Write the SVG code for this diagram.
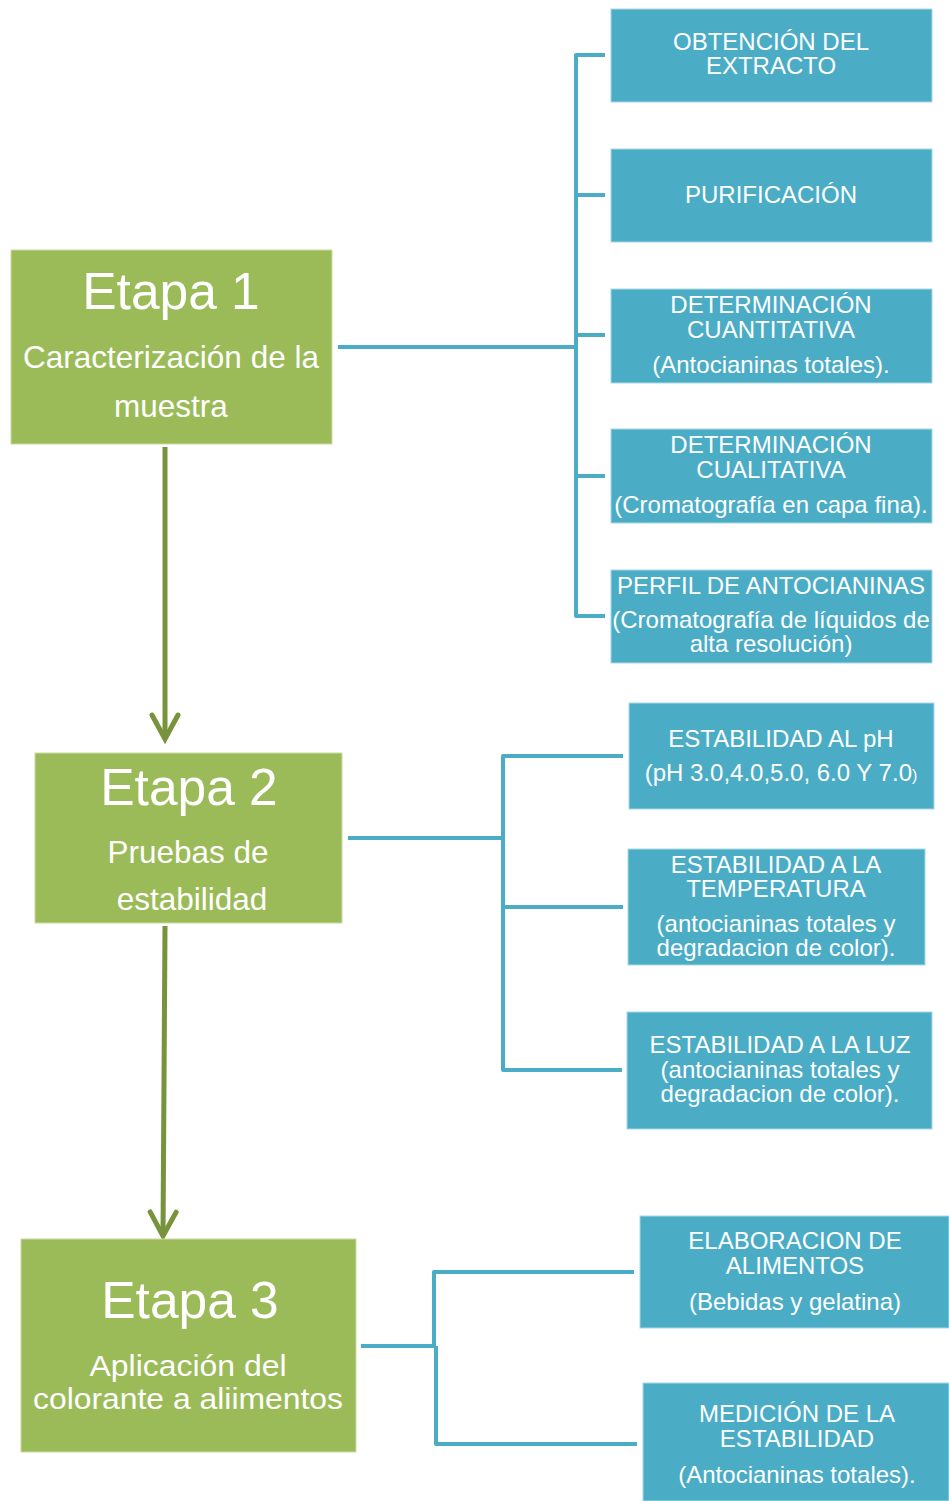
<svg xmlns="http://www.w3.org/2000/svg" width="949" height="1501" viewBox="0 0 949 1501">
<style>
.g{fill:#9BBB59;stroke:#c9dba6;stroke-width:1}
.b{fill:#4BACC6;stroke:#a9d7e4;stroke-width:1}
text{font-family:"Liberation Sans",Arial,sans-serif;fill:#fff;text-anchor:middle}
.t{font-size:24px}
.h{font-size:51.5px}
.s{font-size:31.5px}
.s3{font-size:29px}
.c{fill:none;stroke:#4BACC6;stroke-width:4;stroke-linejoin:round}
.a{fill:none;stroke:#77933C;stroke-width:5}
</style>
<defs>
<marker id="ah" markerUnits="userSpaceOnUse" markerWidth="40" markerHeight="40" viewBox="-30 -20 40 40" refX="0" refY="0" orient="auto">
<path d="M-24,-13 L0,0 L-24,13" fill="none" stroke="#77933C" stroke-width="5" stroke-linecap="round" stroke-linejoin="miter"/>
</marker>
</defs>
<rect width="949" height="1501" fill="#fff"/>
<g id="connectors">
<path class="c" d="M338,347 H576"/>
<path class="c" d="M605,55 H576 V616 H605"/>
<path class="c" d="M576,195 H605 M576,335 H605 M576,476 H605"/>
<path class="c" d="M348,838 H503"/>
<path class="c" d="M623,756 H503 V1070 H622"/>
<path class="c" d="M503,907 H623"/>
<path class="c" d="M361,1346 H435"/>
<path class="c" d="M634,1272 H434 V1346 M436,1346 V1444 H637"/>
<path class="a" d="M165,447 V739" marker-end="url(#ah)"/>
<path class="a" d="M165,926 L163,1236" marker-end="url(#ah)"/>
</g>
<g id="etapa1">
<rect class="g" x="11" y="250" width="321" height="194"/>
<text class="h" x="171" y="309">Etapa 1</text>
<text class="s" x="171" y="368">Caracterización de la</text>
<text class="s" x="171" y="417">muestra</text>
</g>
<g id="etapa2">
<rect class="g" x="35" y="753" width="307" height="170"/>
<text class="h" x="189" y="805">Etapa 2</text>
<text class="s" x="188" y="863">Pruebas de</text>
<text class="s" x="192" y="910">estabilidad</text>
</g>
<g id="etapa3">
<rect class="g" x="21" y="1239" width="335" height="213"/>
<text class="h" x="190" y="1318">Etapa 3</text>
<text class="s3" x="188" y="1376" textLength="197" lengthAdjust="spacingAndGlyphs">Aplicación del</text>
<text class="s3" x="188" y="1409" textLength="310" lengthAdjust="spacingAndGlyphs">colorante a aliimentos</text>
</g>
<g id="obtencion">
<rect class="b" x="611" y="9" width="321" height="93"/>
<text class="t" x="771" y="50">OBTENCIÓN DEL</text>
<text class="t" x="771" y="74">EXTRACTO</text>
</g>
<g id="purificacion">
<rect class="b" x="611" y="149" width="321" height="93"/>
<text class="t" x="771" y="203">PURIFICACIÓN</text>
</g>
<g id="cuantitativa">
<rect class="b" x="611" y="289" width="321" height="94"/>
<text class="t" x="771" y="313">DETERMINACIÓN</text>
<text class="t" x="771" y="338">CUANTITATIVA</text>
<text class="t" x="771" y="373">(Antocianinas totales).</text>
</g>
<g id="cualitativa">
<rect class="b" x="611" y="429" width="321" height="94"/>
<text class="t" x="771" y="453">DETERMINACIÓN</text>
<text class="t" x="771" y="478">CUALITATIVA</text>
<text class="t" x="771" y="513">(Cromatografía en capa fina).</text>
</g>
<g id="perfil">
<rect class="b" x="611" y="570" width="321" height="93"/>
<text class="t" x="771" y="594">PERFIL DE ANTOCIANINAS</text>
<text class="t" x="771" y="628">(Cromatografía de líquidos de</text>
<text class="t" x="771" y="652">alta resolución)</text>
</g>
<g id="ph">
<rect class="b" x="629" y="703" width="305" height="106"/>
<text class="t" x="781" y="747">ESTABILIDAD AL pH</text>
<text class="t" x="781" y="781">(pH 3.0,4.0,5.0, 6.0 Y 7.0<tspan font-size="16">)</tspan></text>
</g>
<g id="temperatura">
<rect class="b" x="628" y="849" width="297" height="116"/>
<text class="t" x="776" y="873">ESTABILIDAD A LA</text>
<text class="t" x="776" y="897">TEMPERATURA</text>
<text class="t" x="776" y="932">(antocianinas totales y</text>
<text class="t" x="776" y="956">degradacion de color).</text>
</g>
<g id="luz">
<rect class="b" x="627" y="1012" width="305" height="117"/>
<text class="t" x="780" y="1053">ESTABILIDAD A LA LUZ</text>
<text class="t" x="780" y="1078">(antocianinas totales y</text>
<text class="t" x="780" y="1102">degradacion de color).</text>
</g>
<g id="elaboracion">
<rect class="b" x="640" y="1216" width="309" height="112"/>
<text class="t" x="795" y="1249">ELABORACION DE</text>
<text class="t" x="795" y="1274">ALIMENTOS</text>
<text class="t" x="795" y="1310">(Bebidas y gelatina)</text>
</g>
<g id="medicion">
<rect class="b" x="643" y="1383" width="306" height="118"/>
<text class="t" x="797" y="1422">MEDICIÓN DE LA</text>
<text class="t" x="797" y="1447">ESTABILIDAD</text>
<text class="t" x="797" y="1483">(Antocianinas totales).</text>
</g>
</svg>
